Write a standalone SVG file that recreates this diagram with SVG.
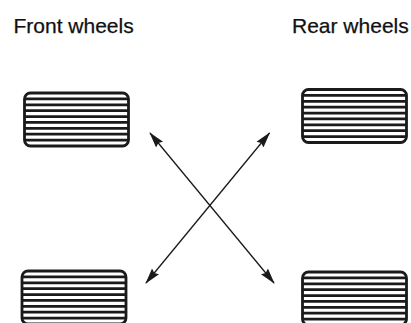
<svg xmlns="http://www.w3.org/2000/svg" width="411" height="323" viewBox="0 0 411 323">
<style>
.lbl{font-family:"Liberation Sans",Arial,sans-serif;font-size:21px;fill:#111;stroke:#111;stroke-width:0.25}
.tire{fill:#fff;stroke:#1a1a1a;stroke-width:2.8}
.tread{stroke:#1a1a1a;stroke-width:2.8}
.conn{stroke:#1a1a1a;stroke-width:1.3;fill:none}
</style>
<defs>
<marker id="ah" markerUnits="userSpaceOnUse" markerWidth="16" markerHeight="12" viewBox="0 0 16 12" refX="15" refY="6" orient="auto-start-reverse">
<path d="M0,1.5 L16,6 L0,10.5 L2,6 Z" fill="#1a1a1a"/>
</marker>
<g id="treads">
<line class="tread" x1="0" y1="5.9" x2="104" y2="5.9"/>
<line class="tread" x1="0" y1="11.8" x2="104" y2="11.8"/>
<line class="tread" x1="0" y1="17.7" x2="104" y2="17.7"/>
<line class="tread" x1="0" y1="23.6" x2="104" y2="23.6"/>
<line class="tread" x1="0" y1="29.4" x2="104" y2="29.4"/>
<line class="tread" x1="0" y1="35.3" x2="104" y2="35.3"/>
<line class="tread" x1="0" y1="41.2" x2="104" y2="41.2"/>
<line class="tread" x1="0" y1="47.1" x2="104" y2="47.1"/>
</g>
</defs>
<rect width="411" height="323" fill="#fff"/>
<text class="lbl" x="13.5" y="32.5">Front wheels</text>
<text class="lbl" x="292" y="32.5">Rear wheels</text>
<g id="wheel-front-top">
<rect class="tire" x="24.5" y="93" width="104" height="53" rx="6"/>
<use href="#treads" x="24.5" y="93"/>
</g>
<g id="wheel-rear-top">
<rect class="tire" x="302.5" y="89.5" width="104" height="53" rx="6"/>
<use href="#treads" x="302.5" y="89.5"/>
</g>
<g id="wheel-front-bottom">
<rect class="tire" x="22" y="271" width="104" height="53" rx="6"/>
<use href="#treads" x="22" y="271"/>
</g>
<g id="wheel-rear-bottom">
<rect class="tire" x="302.5" y="272" width="104" height="53" rx="6"/>
<use href="#treads" x="302.5" y="272"/>
</g>
<g id="connectors">
<line class="conn" x1="150" y1="133" x2="274" y2="283" marker-start="url(#ah)" marker-end="url(#ah)"/>
<line class="conn" x1="269.5" y1="133" x2="146" y2="283" marker-start="url(#ah)" marker-end="url(#ah)"/>
</g>
</svg>
